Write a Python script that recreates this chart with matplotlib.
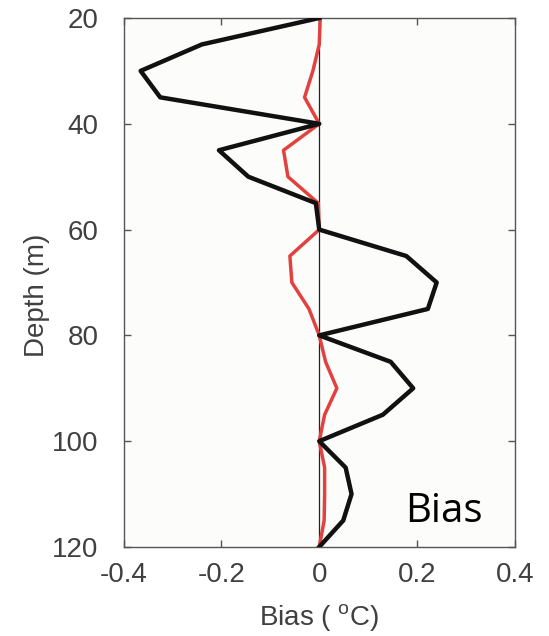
import matplotlib
matplotlib.use("Agg")
import matplotlib.pyplot as plt

# depth levels (m) and temperature bias (degC) for the two runs
depth = [20, 25, 30, 35, 40, 45, 50, 55, 60, 65, 70,
         75, 80, 85, 90, 95, 100, 105, 110, 115, 120]
bias_black = [0.0, -0.24, -0.365, -0.325, 0.0, -0.205, -0.145, -0.007, 0.0, 0.178, 0.24,
              0.222, 0.0, 0.146, 0.192, 0.13, 0.0, 0.054, 0.066, 0.049, 0.0]
bias_red = [0.002, 0.0, -0.013, -0.03, 0.0, -0.073, -0.064, -0.002, 0.0, -0.06, -0.056,
            -0.021, 0.0, 0.013, 0.036, 0.011, 0.0, 0.011, 0.011, 0.010, 0.0]

xticks = [-0.4, -0.2, 0, 0.2, 0.4]
xticklabels = ['-0.4', '-0.2', '0', '0.2', '0.4']
yticks = [20, 40, 60, 80, 100, 120]

plt.rcParams['font.family'] = ['Liberation Sans', 'DejaVu Sans']
plt.rcParams['mathtext.fontset'] = 'custom'
plt.rcParams['mathtext.rm'] = 'Liberation Sans'

fig = plt.figure(figsize=(5.49, 6.36), dpi=100)
ax = fig.add_axes([0.225, 0.140, 0.713, 0.8317])
ax.set_facecolor('#fcfcfa')

ax.axvline(0, color='#222222', linewidth=0.9, zorder=1)
ax.plot(bias_red, depth, color='#e2423f', linewidth=2.5, zorder=2)
ax.plot(bias_black, depth, color='#111111', linewidth=3.2, zorder=3)

ax.set_xlim(-0.4, 0.4)
ax.set_ylim(120, 20)
ax.set_xticks(xticks)
ax.set_xticklabels(xticklabels)
ax.set_yticks(yticks)

for s in ax.spines.values():
    s.set_color('#555555')
    s.set_linewidth(1.0)
ax.tick_params(direction='in', length=5, width=1, color='#555555',
               labelsize=20, labelcolor='#404040', top=True, right=True)
ax.tick_params(axis='x', pad=11)
ax.tick_params(axis='y', pad=18)

ax.set_xlabel('Bias ( $^{\\rm o}$C)', fontsize=20, color='#404040')
ax.xaxis.set_label_coords(0.5, -0.104)
ax.set_ylabel('Depth (m)', fontsize=20, color='#404040')
ax.yaxis.set_label_coords(-0.187, 0.476)

ax.text(0.175, 115.3, 'Bias', fontsize=29, family='Open Sans', color='black',
        ha='left', va='baseline')

fig.savefig('out.png', dpi=100)
